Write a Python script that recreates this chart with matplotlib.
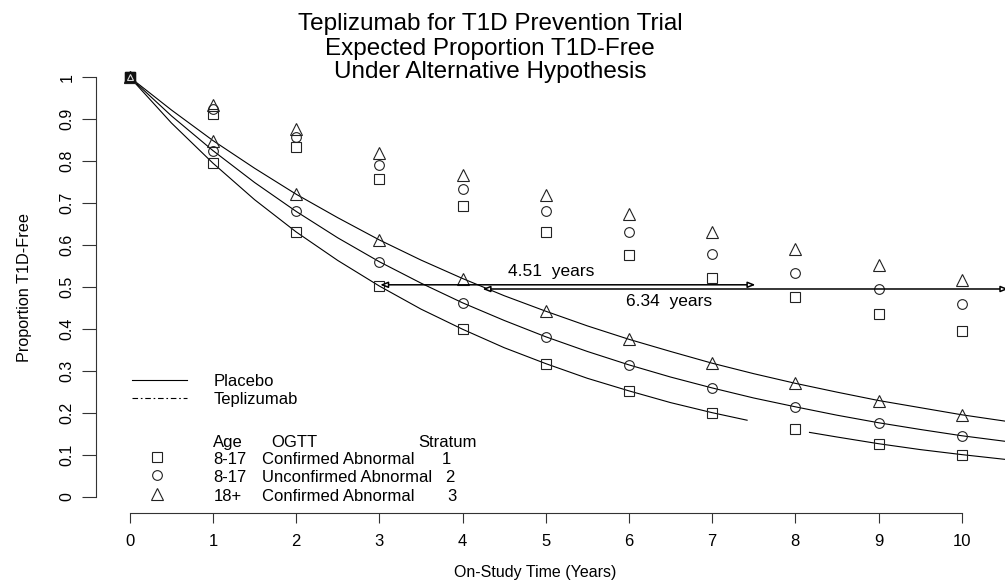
import matplotlib
matplotlib.use("Agg")
import matplotlib.pyplot as plt
import numpy as np

plt.rcParams['font.family'] = ['Liberation Sans', 'DejaVu Sans']

# integer study years (marker positions)
years = [0, 1, 2, 3, 4, 5, 6, 7, 8, 9, 10]

# placebo, expected proportion T1D-free, read at each year
plac_s1 = [1, 0.795, 0.631, 0.502, 0.399, 0.317, 0.252, 0.200, 0.160, 0.126, 0.100]
plac_s2 = [1, 0.825, 0.680, 0.560, 0.462, 0.381, 0.314, 0.259, 0.214, 0.176, 0.145]
plac_s3 = [1, 0.849, 0.721, 0.612, 0.520, 0.442, 0.375, 0.318, 0.270, 0.229, 0.195]

# teplizumab, read at each year
tep_s1 = [1, 0.913, 0.833, 0.758, 0.692, 0.632, 0.575, 0.522, 0.476, 0.435, 0.396]
tep_s2 = [1, 0.925, 0.857, 0.790, 0.734, 0.680, 0.630, 0.578, 0.534, 0.494, 0.459]
tep_s3 = [1, 0.935, 0.876, 0.820, 0.768, 0.720, 0.673, 0.630, 0.590, 0.553, 0.516]

# placebo curves read every half year (stratum 1 curve is broken between 7.4 and 8.2)
curve_t = [0, 0.5, 1, 1.5, 2, 2.5, 3, 3.5, 4, 4.5, 5, 5.5, 6, 6.5, 7, 7.5, 8, 8.5,
           9, 9.5, 10, 10.55]
curve_s2 = [1, 0.908, 0.825, 0.749, 0.680, 0.617, 0.560, 0.509, 0.462, 0.420, 0.381,
            0.346, 0.314, 0.285, 0.259, 0.235, 0.214, 0.194, 0.176, 0.160, 0.145, 0.131]
curve_s3 = [1, 0.922, 0.849, 0.783, 0.721, 0.665, 0.612, 0.564, 0.520, 0.479, 0.442,
            0.407, 0.375, 0.346, 0.318, 0.293, 0.270, 0.249, 0.229, 0.212, 0.195, 0.179]
curve_s1_t = [0, 0.5, 1, 1.5, 2, 2.5, 3, 3.5, 4, 4.5, 5, 5.5, 6, 6.5, 7, 7.42, None,
              8.17, 8.5, 9, 9.5, 10, 10.55]
curve_s1 = [1, 0.891, 0.795, 0.708, 0.631, 0.563, 0.502, 0.447, 0.399, 0.355, 0.317,
            0.282, 0.252, 0.224, 0.200, 0.182, None, 0.153, 0.142, 0.126, 0.112, 0.100, 0.088]

# median differences (placebo median -> teplizumab median)
arr_start = [3.01, 4.24]
arr_end = [7.52, 10.56]
arr_y = [0.505, 0.495]
arr_lab = ["4.51  years", "6.34  years"]
lab_x = [5.07, 6.48]
lab_y = [0.537, 0.465]

W, H = 1005, 584
fig = plt.figure(figsize=(W / 100, H / 100), dpi=100)
ax = fig.add_axes([95.7 / W, 1 - 513.3 / H, 909.3 / W, 452.8 / H])
ax.set_xlim(-0.41, 10.52)
ax.set_ylim(-0.04, 1.04)

def f(v):
    return np.array([np.nan if a is None else a for a in v], dtype=float)

ln = dict(color='black', lw=0.8)
ax.plot(f(curve_s1_t), f(curve_s1), **ln)
ax.plot(curve_t, curve_s2, **ln)
ax.plot(curve_t, curve_s3, **ln)

mk = dict(ls='none', mfc='none', mec='#222222', mew=0.8)
for vals in (plac_s1, tep_s1):
    ax.plot(years, vals, marker='s', ms=6.5, **mk)
for vals in (plac_s2, tep_s2):
    ax.plot(years, vals, marker='o', ms=7, **mk)
for vals in (plac_s3, tep_s3):
    ax.plot(years, vals, marker='^', ms=8, **mk)

# all six markers pile up at the start point: dark box with a light triangle
ax.plot(years[:1], plac_s1[:1], marker='s', ms=7, ls='none', mfc='#111111', mec='#111111')
ax.plot(years[:1], plac_s3[:1], marker='^', ms=5, ls='none', mfc='none', mec='#dddddd', mew=0.8)

for x0, x1, y, lab, lx, ly in zip(arr_start, arr_end, arr_y, arr_lab, lab_x, lab_y):
    ax.annotate('', xy=(x1, y), xytext=(x0, y), annotation_clip=False,
                arrowprops=dict(arrowstyle='<|-|>,head_length=0.45,head_width=0.18',
                                lw=1.1, fc='white', ec='black',
                                shrinkA=0, shrinkB=0))
    ax.text(lx, ly, lab, ha='center', va='center', fontsize=12.5)

for s in ('top', 'right'):
    ax.spines[s].set_visible(False)
ax.spines['left'].set_bounds(0, 1)
ax.spines['bottom'].set_bounds(0, 10)
ax.spines['left'].set_color('#333333')
ax.spines['bottom'].set_color('#333333')
ax.set_xticks(years)
ax.set_xticklabels([str(y) for y in years])
yt = [0, 0.1, 0.2, 0.3, 0.4, 0.5, 0.6, 0.7, 0.8, 0.9, 1]
ax.set_yticks(yt)
ax.set_yticklabels(['0', '0.1', '0.2', '0.3', '0.4', '0.5', '0.6', '0.7', '0.8', '0.9', '1'],
                   rotation=90, va='center')
ax.tick_params(axis='x', length=7, width=0.8, pad=8, labelsize=12, color='#333333')
ax.tick_params(axis='y', length=10, width=0.8, pad=5, labelsize=11.5, color='#333333')

def px(x, y):
    return x / W, 1 - y / H

# title (baselines)
for yy, t in zip([30, 54.5, 78], ["Teplizumab for T1D Prevention Trial",
                                   "Expected Proportion T1D-Free",
                                   "Under Alternative Hypothesis"]):
    fig.text(*px(490, yy), t, ha='center', va='baseline', fontsize=17.5)

fig.text(*px(535, 573), "On-Study Time (Years)", ha='center', va='center', fontsize=11.5)
fig.text(*px(25, 288), "Proportion T1D-Free", ha='center', va='center',
         rotation=90, fontsize=11.7)

# legend
fig.add_artist(plt.Line2D([131.7 / W, 186.7 / W], [1 - 380 / H] * 2, color='black', lw=0.8))
fig.add_artist(plt.Line2D([131.7 / W, 186.7 / W], [1 - 398.3 / H] * 2, color='black', lw=0.8,
                          linestyle=(0, (5, 2.5, 1.5, 2.5))))
fig.text(*px(213.3, 386), "Placebo", fontsize=12, va='baseline')
fig.text(*px(213.3, 404), "Teplizumab", fontsize=12, va='baseline')

fig.text(*px(213.3, 447), "Age", fontsize=12, va='baseline')
fig.text(*px(271.7, 447), "OGTT", fontsize=12, va='baseline')
fig.text(*px(418.3, 447), "Stratum", fontsize=12, va='baseline')
rows_age = ["8-17", "8-17", "18+"]
rows_ogtt = ["Confirmed Abnormal", "Unconfirmed Abnormal", "Confirmed Abnormal"]
rows_str = ["1", "2", "3"]
rows_mk = [('s', 6.5), ('o', 7), ('^', 8)]
for i, yy in enumerate([458, 476.5, 495]):
    fig.text(*px(213.3, yy + 6), rows_age[i], fontsize=12, va='baseline')
    fig.text(*px(261.7, yy + 6), rows_ogtt[i], fontsize=12, va='baseline')
    fig.text(*px([446.7, 450, 451.7][i], yy + 6), rows_str[i], fontsize=12,
             va='baseline', ha='center')
    m, s = rows_mk[i]
    fig.add_artist(plt.Line2D([156.7 / W], [1 - (yy - 1.5) / H], marker=m, ms=s,
                              ls='none', mfc='none', mec='#222222', mew=0.8))

fig.savefig('out.png', dpi=100, facecolor='white')
